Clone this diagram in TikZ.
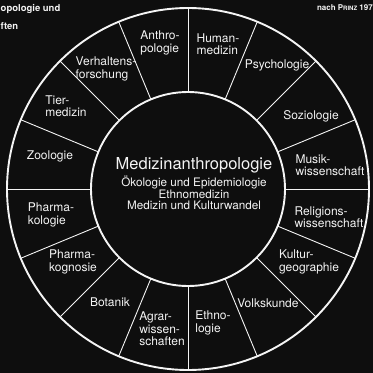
\documentclass[tikz,border=0pt]{standalone}
\usepackage{fontspec}
\setmainfont{TeX Gyre Heros}
\usepackage{xcolor}
\usetikzlibrary{positioning}
\definecolor{board}{HTML}{0E0E0E}
\definecolor{chalk}{HTML}{F4F4F4}
\tikzset{
  rim/.style={draw=chalk,line width=1.9pt},
  spoke/.style={draw=chalk,line width=0.9pt},
  field/.style={text=chalk,align=left,inner sep=0pt,
                font=\fontsize{12}{12.3}\selectfont},
  core/.style={text=chalk,align=center,inner sep=0pt,
               font=\fontsize{11.7}{11.6}\selectfont},
  corner/.style={text=chalk,inner sep=0pt,font=\bfseries\fontsize{9.5}{17}\selectfont}
}

\begin{document}
\begin{tikzpicture}[x=1pt,y=1pt]
    \path[use as bounding box,fill=board] (-188,-184) rectangle (185,189);
    \draw[rim] (0,0) circle (181);
    \draw[rim] (0,0) circle (97);
    \foreach \a in {0,22.5,...,337.5}
      \draw[spoke] (\a:97) -- (\a:181);
    % ring of neighbouring fields
    \node[field] (anthro) at (-28,146) {Anthro-\\pologie};
    \node[field] (human) at (30,145) {Human-\\medizin};
    \node[field] (psych) at (89,124) {Psychologie};
    \node[field] (sozio) at (123,73) {Soziologie};
    \node[field] (musik) at (142,24) {Musik-\\wissenschaft};
    \node[field] (relig) at (141,-28) {Religions-\\wissenschaft};
    \node[field] (kultur) at (121,-73) {Kultur-\\geographie};
    \node[field] (volk) at (80,-114) {Volkskunde};
    \node[field] (ethno) at (25,-134) {Ethno-\\logie};
    \node[field] (agrar) at (-26,-140) {Agrar-\\wissen-\\schaften};
    \node[field] (botanik) at (-78,-113) {Botanik};
    \node[field] (kogn) at (-115,-73) {Pharma-\\kognosie};
    \node[field] (pharma) at (-137,-26) {Pharma-\\kologie};
    \node[field] (zoo) at (-138,33) {Zoologie};
    \node[field] (tier) at (-122,83) {Tier-\\medizin};
    \node[field] (verhalt) at (-82,120) {Verhaltens-\\forschung};
    % centre
    \node[core,font=\fontsize{16.5}{18}\selectfont] (title) at (6,24)
      {Medizinanthropologie};
    \node[core,below=3pt of title] (topics)
      {Ökologie und Epidemiologie\\Ethnomedizin\\Medizin und Kulturwandel};
    % captions at the edges
    \node[corner,anchor=west] (capa) at (-187.5,180) {opologie und};
    \node[corner,anchor=west] (capb) at (-187.5,163) {ften};
    \node[corner,font=\bfseries\fontsize{8}{10}\selectfont,anchor=east] (src) at (185,181)
      {nach P{\fontsize{6}{6}\selectfont RINZ} 197};
  \end{tikzpicture}
\end{document}
